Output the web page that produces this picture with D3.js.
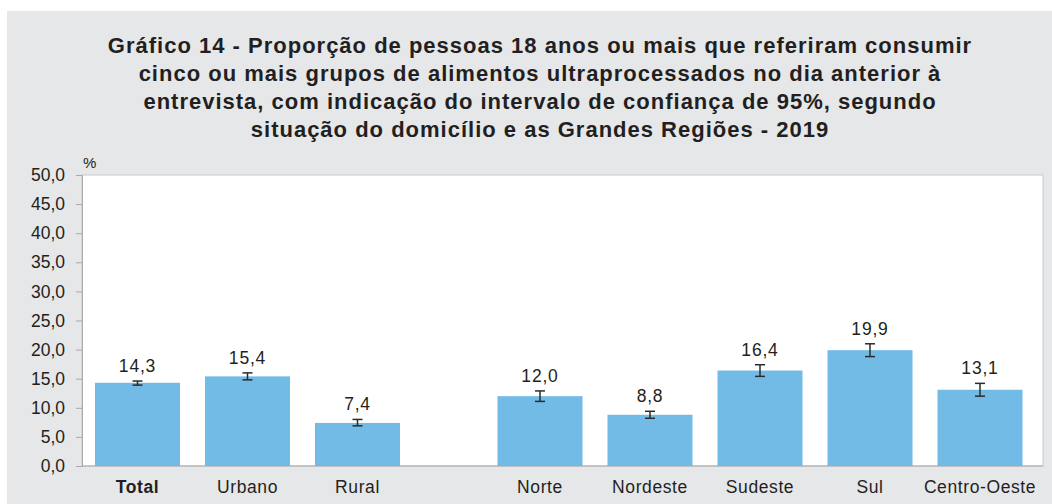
<!DOCTYPE html>
<meta charset="utf-8">
<script src="https://d3js.org/d3.v7.min.js"></script>
<style>
  body { margin: 0; background: #fff; }
  svg { display: block; font-family: "Liberation Sans", Arial, sans-serif; }
</style>
<div id="my_dataviz"></div>
<script>
// data
var categories = ["Total", "Urbano", "Rural", "Norte", "Nordeste", "Sudeste", "Sul", "Centro-Oeste"];
var values = [14.3, 15.4, 7.4, 12.0, 8.8, 16.4, 19.9, 13.1];
var ciLow = [13.9, 14.8, 6.9, 11.1, 8.2, 15.4, 18.8, 12.0];
var ciHigh = [14.6, 16.0, 8.0, 12.9, 9.4, 17.4, 21.0, 14.2];
var yTicks = [0, 5, 10, 15, 20, 25, 30, 35, 40, 45, 50];
var titleLines = [
  "Gráfico 14 - Proporção de pessoas 18 anos ou mais que referiram consumir",
  "cinco ou mais grupos de alimentos ultraprocessados no dia anterior à",
  "entrevista, com indicação do intervalo de confiança de 95%, segundo",
  "situação do domicílio e as Grandes Regiões - 2019"
];

var W = 1052, H = 504;
var plot = {left: 82, right: 1043, top: 175, bottom: 466};
var groupGap = 72.5; // extra space between "Rural" and "Norte"
var txt = "#231f20";

var svg = d3.select("#my_dataviz")
  .append("svg")
    .attr("width", W)
    .attr("height", H);

// grey panel
svg.append("rect")
  .attr("x", 7).attr("y", 11)
  .attr("width", W - 7).attr("height", H - 11)
  .attr("fill", "#e6e7e9");

// title
svg.append("g").selectAll("text")
  .data(titleLines)
  .enter().append("text")
    .attr("x", 540)
    .attr("y", function(d, i) { return 53 + i * 28; })
    .attr("text-anchor", "middle")
    .attr("font-size", 22)
    .attr("font-weight", "bold")
    .attr("letter-spacing", 1)
    .attr("fill", txt)
    .text(function(d) { return d; });

// plot area
svg.append("rect")
  .attr("x", plot.left).attr("y", plot.top)
  .attr("width", plot.right - plot.left).attr("height", plot.bottom - plot.top)
  .attr("fill", "#fff")
  .attr("stroke", "#c8c9cb");

var x = d3.scaleBand()
  .domain(categories)
  .range([plot.left + 0.5, plot.left + 0.5 + 8 * 110])
  .paddingInner(25 / 110)
  .paddingOuter(12.5 / 110);

function xPos(d) {
  return x(d) + (categories.indexOf(d) >= 3 ? groupGap : 0);
}

var y = d3.scaleLinear()
  .domain([0, 50])
  .range([plot.bottom, plot.top]);

// y axis
var yAxis = svg.append("g")
  .attr("transform", "translate(" + plot.left + ",0)")
  .call(d3.axisLeft(y).tickValues(yTicks).tickSize(6).tickPadding(11)
    .tickFormat(function(d) { return d3.format(".1f")(d).replace(".", ","); }));
yAxis.select(".domain").attr("stroke", "#a7a9ac");
yAxis.selectAll(".tick line").attr("stroke", "#a7a9ac");
yAxis.selectAll(".tick text")
  .attr("font-size", 17.5)
  .attr("fill", txt)
  .attr("font-family", "Liberation Sans, Arial, sans-serif");

// bottom axis line
svg.append("line")
  .attr("x1", plot.left).attr("x2", plot.right)
  .attr("y1", plot.bottom).attr("y2", plot.bottom)
  .attr("stroke", "#a7a9ac");

svg.append("text")
  .attr("x", 83).attr("y", 168)
  .attr("font-size", 15)
  .attr("fill", txt)
  .text("%");

// bars
svg.append("g").selectAll("rect")
  .data(categories)
  .enter().append("rect")
    .attr("x", function(d) { return xPos(d); })
    .attr("y", function(d, i) { return y(values[i]); })
    .attr("width", x.bandwidth())
    .attr("height", function(d, i) { return y(0) - y(values[i]); })
    .attr("fill", "#72bbe7");

// error bars
var err = svg.append("g")
  .attr("stroke", "#2b2b2b")
  .attr("stroke-width", 1.5);
categories.forEach(function(d, i) {
  var cx = xPos(d) + x.bandwidth() / 2;
  err.append("line")
    .attr("x1", cx).attr("x2", cx)
    .attr("y1", y(ciLow[i])).attr("y2", y(ciHigh[i]));
  [ciLow[i], ciHigh[i]].forEach(function(v) {
    err.append("line")
      .attr("x1", cx - 5).attr("x2", cx + 5)
      .attr("y1", y(v)).attr("y2", y(v));
  });
});

// value labels
svg.append("g").selectAll("text")
  .data(categories)
  .enter().append("text")
    .attr("x", function(d) { return xPos(d) + x.bandwidth() / 2; })
    .attr("y", function(d, i) { return y(ciHigh[i]) - 9; })
    .attr("text-anchor", "middle")
    .attr("font-size", 17.5)
    .attr("letter-spacing", 0.8)
    .attr("fill", txt)
    .text(function(d, i) { return d3.format(".1f")(values[i]).replace(".", ","); });

// category labels
svg.append("g").selectAll("text")
  .data(categories)
  .enter().append("text")
    .attr("x", function(d) { return xPos(d) + x.bandwidth() / 2; })
    .attr("y", 493)
    .attr("text-anchor", "middle")
    .attr("font-size", 17.5)
    .attr("letter-spacing", 0.6)
    .attr("font-weight", function(d) { return d === "Total" ? "bold" : "normal"; })
    .attr("fill", txt)
    .text(function(d) { return d; });
</script>
